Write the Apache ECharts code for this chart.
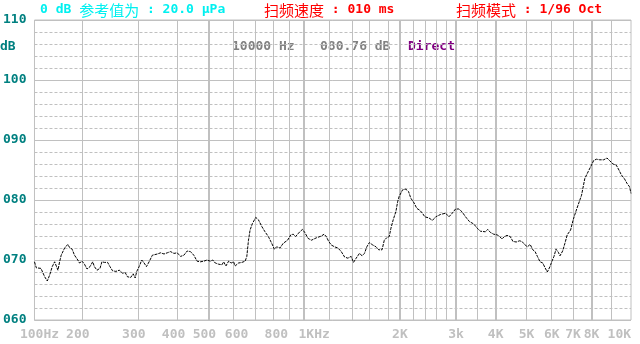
<!DOCTYPE html>
<html>
<head>
<meta charset="utf-8">
<script src="https://cdn.jsdelivr.net/npm/echarts@6/dist/echarts.min.js"></script>
<style>
html, body { margin: 0; padding: 0; background: #fff; }
#main { width: 640px; height: 344px; }
</style>
</head>
<body>
<div id="main"></div>
<script>
// 频率响应曲线数据 (Hz / dB)
const freqHz = [
  142, 143.9, 148.8, 152.9, 155.8, 158.5, 161.5, 164.3, 166.2, 168.3,
  170.3, 172.3, 176.6, 180.8, 183.0, 186.5, 189.7, 194.3, 196.7, 200.4,
  203.9, 207.7, 212.3, 216.4, 219.1, 223.2, 228.1, 231.4, 235.5, 241.1,
  245.2, 249.9, 255.9, 262.3, 268.6, 273.8, 278.4, 285.1, 290.1, 294.3,
  297.7, 302.9, 308.7, 314.0, 319.3, 325.5, 333.3, 337.4, 345.5, 353.8,
  362.6, 371.3, 380.2, 389.6, 399.0, 408.6, 418.8, 428.8, 439.1, 449.9,
  460.7, 471.7, 483.5, 495.1, 507.0, 515.8, 525.5, 538.5, 551.5, 558.3,
  567.6, 578.7, 589.6, 600.0, 606.9, 621.9, 637.0, 652.3, 660.3, 668.3,
  676.1, 687.9, 704.4, 718.2, 735.6, 753.3, 771.9, 790.4, 805.9, 819.4,
  839.0, 860.0, 886.9, 908.1, 923.9, 939.3, 968.7, 987.9, 1004, 1029,
  1054, 1093, 1133, 1155, 1174, 1194, 1217, 1246, 1277, 1308,
  1340, 1372, 1405, 1429, 1457, 1492, 1521, 1547, 1574, 1603,
  1643, 1682, 1716, 1757, 1786, 1817, 1851, 1874, 1905, 1943,
  1967, 1989, 2039, 2088, 2129, 2164, 2216, 2260, 2308, 2354,
  2394, 2469, 2530, 2591, 2686, 2784, 2851, 2921, 2991, 3064,
  3139, 3215, 3309, 3413, 3498, 3582, 3713, 3775, 3849, 3941,
  4040, 4116, 4187, 4257, 4340, 4444, 4531, 4640, 4751, 4834,
  4950, 5033, 5132, 5233, 5320, 5409, 5515, 5623, 5717, 5812,
  5926, 5999, 6099, 6189, 6292, 6370, 6494, 6603, 6713, 6879,
  7008, 7147, 7266, 7446, 7625, 7808, 7961, 8135, 8295, 8495,
  8741, 8952, 9346, 9578, 9759, 9929, 10167, 10337, 10539, 10650
]
const levelDb = [
  69.7, 68.7, 68.6, 67.2, 66.5, 67.5, 68.9, 69.7, 69.8, 68.3,
  69.7, 70.8, 72.0, 72.6, 72.1, 71.8, 70.8, 70.0, 69.5, 69.8,
  69.3, 68.5, 68.9, 69.7, 68.9, 68.3, 68.6, 69.7, 69.6, 69.6,
  68.9, 68.2, 68.1, 68.3, 67.8, 67.9, 67.2, 67.1, 67.7, 67.0,
  68.1, 68.9, 70.0, 69.5, 68.9, 69.7, 70.8, 71.1, 71.0, 71.2,
  71.0, 71.2, 71.4, 71.1, 71.2, 70.6, 70.8, 71.5, 71.4, 70.8,
  69.8, 69.7, 69.8, 70.0, 69.8, 70.0, 69.5, 69.3, 69.2, 69.7,
  69.0, 69.8, 69.5, 69.7, 69.0, 69.5, 69.6, 69.8, 70.6, 73.3,
  75.0, 76.1, 77.1, 76.7, 75.6, 74.7, 73.9, 72.8, 71.8, 72.2,
  72.0, 72.8, 73.3, 74.2, 74.3, 73.9, 74.7, 75.1, 74.6, 73.6,
  73.3, 73.7, 74.0, 74.3, 73.9, 73.1, 72.5, 72.2, 72.0, 71.4,
  70.5, 70.3, 70.6, 69.6, 70.3, 71.1, 70.7, 71.1, 72.2, 72.9,
  72.5, 72.2, 71.7, 71.7, 73.3, 73.7, 73.9, 75.3, 76.7, 78.1,
  79.7, 80.6, 81.7, 81.8, 81.4, 80.3, 79.5, 78.6, 78.3, 77.8,
  77.2, 77.0, 76.6, 77.2, 77.6, 77.8, 77.2, 77.8, 78.5, 78.5,
  78.0, 77.2, 76.4, 76.0, 75.3, 74.8, 74.7, 75.1, 74.6, 74.3,
  74.2, 73.9, 73.5, 73.9, 74.1, 73.9, 73.1, 73.0, 73.2, 73.1,
  72.5, 72.2, 72.6, 71.7, 71.4, 70.6, 69.7, 69.5, 68.7, 68.0,
  68.9, 69.7, 70.6, 71.8, 71.3, 70.7, 71.5, 72.8, 74.2, 75.0,
  76.7, 78.1, 79.2, 80.8, 83.6, 84.7, 85.6, 86.6, 86.8, 86.7,
  86.7, 87.0, 86.0, 85.8, 85.0, 84.2, 83.5, 82.8, 82.2, 81.1
]

// 坐标轴
const xMinHz = 142
const xMaxHz = 10650
const thinGridHz = [200, 300, 400, 600, 700, 800, 900, 1200, 1420, 1600, 1840,
  2200, 2400, 2600, 2800, 3500, 5000, 6000, 7000, 9250]
const thickGridHz = [500, 1000, 2000, 3000, 4000, 8000]
const labelHz = [142, 200, 300, 400, 500, 600, 800, 1000, 2000, 3000, 4000,
  5000, 6000, 7000, 8000, 10000]
const labelText = ['100Hz', '200', '300', '400', '500', '600', '800', '1KHz', '2K',
  '3k', '4K', '5K', '6K', '7K', '8K', '10K']
const dbMin = 60
const dbMax = 110
const dbMajor = 10
const dbMinor = 2

// 标签微调 (px)
const labelNudge = [5, -4, -4, -4, -4, 3, 3, 10, 0, 0, 0, 0, 0, 0, 0, -3]

const mono = '"DejaVu Sans Mono", "Liberation Mono", monospace'
const cjk = '"Noto Sans CJK SC"'
const grey = '#c0c0c0'

const lg = v => Math.log10(v)

const rich = {}
labelNudge.forEach((s, i) => {
  rich['n' + i] = {
    color: grey,
    fontFamily: mono,
    fontWeight: 'bold',
    fontSize: 13,
    padding: s > 0 ? [0, 0, 0, 2 * s] : [0, -2 * s, 0, 0]
  }
})

function xLabel(value) {
  for (let i = 0; i < labelHz.length; i++) {
    if (Math.abs(lg(labelHz[i]) - value) < 1e-6) return '{n' + i + '|' + labelText[i] + '}'
  }
  return ''
}

var myChart = echarts.init(document.getElementById('main'), null, { renderer: 'canvas' })

const option = {
  animation: false,
  backgroundColor: '#fff',
  grid: {
    left: 31,
    top: 20,
    width: 600,
    height: 300,
    show: true,
    borderColor: grey,
    borderWidth: 1
  },
  xAxis: [
    {
      type: 'value',
      min: lg(xMinHz),
      max: lg(xMaxHz),
      axisLine: { show: false },
      axisTick: { show: false, customValues: thinGridHz.map(lg) },
      splitLine: { show: true, lineStyle: { color: grey, width: 1 } },
      axisLabel: {
        customValues: labelHz.map(lg),
        formatter: xLabel,
        margin: 8,
        color: grey,
        fontFamily: mono,
        fontWeight: 'bold',
        fontSize: 13,
        rich: rich
      }
    },
    {
      type: 'value',
      position: 'top',
      min: lg(xMinHz),
      max: lg(xMaxHz),
      axisLine: { show: false },
      axisTick: { show: false, customValues: thickGridHz.map(lg) },
      axisLabel: { show: false },
      splitLine: { show: true, lineStyle: { color: grey, width: 2 } }
    }
  ],
  yAxis: [
    {
      // 虚线 每2dB
      type: 'value',
      min: dbMin,
      max: dbMax,
      interval: dbMinor,
      axisLine: { show: false },
      axisTick: { show: false },
      axisLabel: { show: false },
      splitLine: { show: true, lineStyle: { color: grey, width: 1, type: [3, 2] } }
    },
    {
      type: 'value',
      position: 'left',
      min: dbMin,
      max: dbMax,
      interval: dbMajor,
      axisLine: { show: false },
      axisTick: { show: false },
      splitLine: { show: true, lineStyle: { color: grey, width: 1 } },
      axisLabel: {
        margin: 8,
        color: '#008080',
        fontFamily: mono,
        fontWeight: 'bold',
        fontSize: 13,
        formatter: v => String(v).padStart(3, '0')
      }
    }
  ],
  graphic: [
    {
      type: 'text', x: 40, y: 10,
      style: {
        text: '0 dB {c|参考值为} : 20.0 μPa',
        fill: '#00f0f0', font: 'bold 13px ' + mono, verticalAlign: 'middle',
        rich: { c: { fill: '#00f0f0', fontSize: 15, fontFamily: cjk, fontWeight: 'normal' } }
      }
    },
    {
      type: 'text', x: 264, y: 10,
      style: {
        text: '{c|扫频速度} : 010 ms',
        fill: '#ff0000', font: 'bold 13px ' + mono, verticalAlign: 'middle',
        rich: { c: { fill: '#ff0000', fontSize: 15, fontFamily: cjk, fontWeight: 'normal' } }
      }
    },
    {
      type: 'text', x: 456, y: 10,
      style: {
        text: '{c|扫频模式} : 1/96 Oct',
        fill: '#ff0000', font: 'bold 13px ' + mono, verticalAlign: 'middle',
        rich: { c: { fill: '#ff0000', fontSize: 15, fontFamily: cjk, fontWeight: 'normal' } }
      }
    },
    {
      type: 'text', x: 0, y: 47,
      style: { text: 'dB', fill: '#008080', font: 'bold 13px ' + mono, verticalAlign: 'middle' }
    },
    {
      type: 'text', x: 232, y: 47,
      style: { text: '10000 Hz', fill: '#808080', font: 'bold 13px ' + mono, verticalAlign: 'middle' }
    },
    {
      type: 'text', x: 320, y: 47,
      style: { text: '080.76 dB', fill: '#808080', font: 'bold 13px ' + mono, verticalAlign: 'middle' }
    },
    {
      type: 'text', x: 408, y: 47,
      style: { text: 'Direct', fill: '#800080', font: 'bold 13px ' + mono, verticalAlign: 'middle' }
    }
  ],
  series: [
    {
      type: 'line',
      xAxisIndex: 0,
      yAxisIndex: 1,
      symbol: 'none',
      lineStyle: { color: '#000', width: 1, type: [3, 1] },
      data: freqHz.map((f, i) => [lg(f), levelDb[i]])
    }
  ]
}

myChart.setOption(option)
</script>
</body>
</html>
